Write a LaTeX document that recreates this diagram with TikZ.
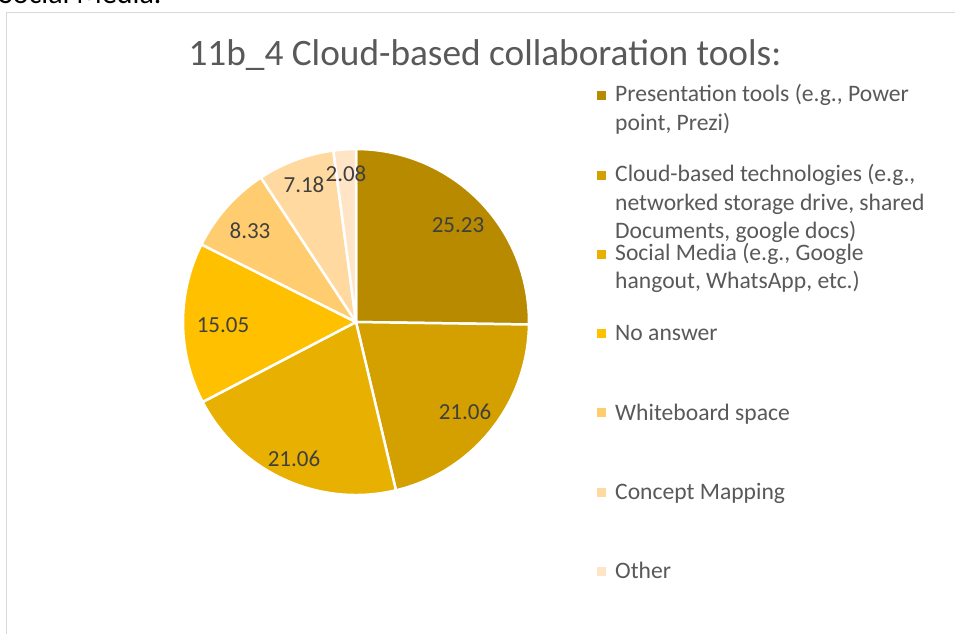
\documentclass[tikz,border=0pt]{standalone}
\usepackage{fontspec}
\setmainfont{Carlito}
\definecolor{sA}{HTML}{B78A00}
\definecolor{sB}{HTML}{D4A000}
\definecolor{sC}{HTML}{E8B000}
\definecolor{sD}{HTML}{FFC000}
\definecolor{sE}{HTML}{FFCC70}
\definecolor{sF}{HTML}{FFD9A0}
\definecolor{sG}{HTML}{FFE5C6}
\definecolor{legtext}{HTML}{595959}
\definecolor{lbltext}{HTML}{404040}
\definecolor{frame}{HTML}{D9D9D9}
\tikzset{
  slice/.style={draw=white, line width=2.5pt, line join=round},
  lbl/.style={font=\fontsize{23}{28}\selectfont, text=lbltext, inner sep=0pt},
  legtxt/.style={font=\fontsize{23.6}{28.5}\selectfont, text=legtext, inner sep=0pt, anchor=base west},
  legmark/.style={minimum size=9pt, inner sep=0pt, draw=none}
}
\begin{document}
\begin{tikzpicture}[x=1pt,y=-1pt]
\useasboundingbox (0,0) rectangle (955,633);
\clip (0,0) rectangle (955,633);
\fill[white] (0,0) rectangle (955,633);
% partial caption text above the chart
\node[anchor=base west, inner sep=0pt, font=\fontsize{30}{34}\selectfont] (cap) at (-1,3.5) {Social Media.};
% chart frame
\draw[frame, line width=1.5pt] (6.5,640) -- (6.5,12.5) -- (960,12.5);
% title
\node[anchor=base, inner sep=0pt, font=\fontsize{37.3}{44}\selectfont, text=legtext] (title) at (485,65) {11b\_4 Cloud-based collaboration tools:};
% pie
\coordinate (c) at (356,322);
\def\R{173}
\fill[sA, slice] (c) -- ++(-90:\R) arc (-90:0.828:\R) -- cycle;
\fill[sB, slice] (c) -- ++(0.828:\R) arc (0.828:76.644:\R) -- cycle;
\fill[sC, slice] (c) -- ++(76.644:\R) arc (76.644:152.46:\R) -- cycle;
\fill[sD, slice] (c) -- ++(152.46:\R) arc (152.46:206.64:\R) -- cycle;
\fill[sE, slice] (c) -- ++(206.64:\R) arc (206.64:236.628:\R) -- cycle;
\fill[sF, slice] (c) -- ++(236.628:\R) arc (236.628:262.476:\R) -- cycle;
\fill[sG, slice] (c) -- ++(262.476:\R) arc (262.476:270:\R) -- cycle;
% data labels
\node[lbl] (l1) at (458,225) {25.23};
\node[lbl] (l2) at (465,412) {21.06};
\node[lbl] (l3) at (294,459) {21.06};
\node[lbl] (l4) at (223,325) {15.05};
\node[lbl] (l5) at (250,231) {8.33};
\node[lbl] (l6) at (304,185) {7.18};
\node[lbl] (l7) at (346,174) {2.08};
% legend
\node[legmark, fill=sA] (m1) at (601,95) {};
\node[legtxt] (t1a) at (615,101.7) {Presentation tools (e.g., Power};
\node[legtxt] (t1b) at (615,130.2) {point, Prezi)};
\node[legmark, fill=sB] (m2) at (601,175) {};
\node[legtxt] (t2a) at (615,181.7) {Cloud-based technologies (e.g.,};
\node[legtxt] (t2b) at (615,210.2) {networked storage drive, shared};
\node[legtxt] (t2c) at (615,238.7) {Documents, google docs)};
\node[legmark, fill=sC] (m3) at (601,254) {};
\node[legtxt] (t3a) at (615,260) {Social Media (e.g., Google};
\node[legtxt] (t3b) at (615,288.5) {hangout, WhatsApp, etc.)};
\node[legmark, fill=sD] (m4) at (601,333) {};
\node[legtxt] (t4) at (615,340) {No answer};
\node[legmark, fill=sE] (m5) at (601,412) {};
\node[legtxt] (t5) at (615,420) {Whiteboard space};
\node[legmark, fill=sF] (m6) at (601,492) {};
\node[legtxt] (t6) at (615,499) {Concept Mapping};
\node[legmark, fill=sG] (m7) at (601,571) {};
\node[legtxt] (t7) at (615,578.5) {Other};
\end{tikzpicture}
\end{document}
